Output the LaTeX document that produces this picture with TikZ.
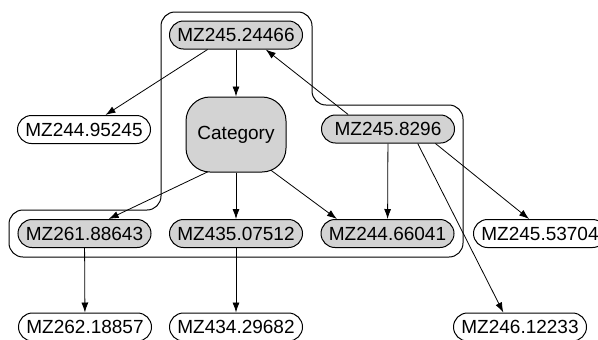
\documentclass[tikz,border=0pt]{standalone}
\usepackage{fontspec}
\setmainfont{Liberation Sans}
\usepackage{tikz}
\usetikzlibrary{arrows.meta,backgrounds}
\definecolor{lightgrey}{RGB}{211,211,211}

\begin{document}
\begin{tikzpicture}[x=0.5pt,y=-0.5pt,>={Latex[length=5pt,width=3.5pt]},line width=0.5pt]
	\tikzstyle{every node}=[font=\fontsize{9.5}{11}\selectfont]
	\tikzstyle{member}=[draw,fill=lightgrey,rounded corners=7pt,minimum width=66.5pt,minimum height=14pt,inner sep=0pt]
	\tikzstyle{other}=[draw,rounded corners=7pt,minimum width=66.5pt,minimum height=14pt,inner sep=0pt]
	\tikzstyle{category}=[draw,fill=lightgrey,rounded corners=12pt,minimum width=50pt,minimum height=37.5pt,inner sep=0pt]
	\useasboundingbox (0,0) rectangle (598,339);
	% cluster outline
	\draw[rounded corners=7pt] (161,12) -- (312,12) -- (312,105) -- (463,105)
		-- (463,257) -- (9,257) -- (9,210) -- (161,210) -- cycle;
	% nodes
	\node[member] (m24466) at (236,35) {MZ245.24466};
	\node[category] (cat) at (236,134.5) {Category};
	\node[other] (m95245) at (84,129.5) {MZ244.95245};
	\node[member] (m8296) at (388,129) {MZ245.8296};
	\node[member] (m88643) at (84.5,233.5) {MZ261.88643};
	\node[member] (m07512) at (236,233.5) {MZ435.07512};
	\node[member] (m66041) at (387.5,233.5) {MZ244.66041};
	\node[other] (m53704) at (540,233.5) {MZ245.53704};
	\node[other] (m18857) at (85,327) {MZ262.18857};
	\node[other] (m29682) at (236,327) {MZ434.29682};
	\node[other] (m12233) at (520,327) {MZ246.12233};
	% edges
	\begin{scope}[on background layer]
		\draw[->] (m24466) -- (cat);
		\draw[->] (m24466.-153) -- (m95245.34);
		\draw[->] (m8296.160) -- (m24466.-26);
		\draw[->,shorten <=-2pt] (cat.-128) -- (m88643.31);
		\draw[->] (cat) -- (m07512);
		\draw[->,shorten <=-2.5pt] (cat.-45) -- (m66041.164);
		\draw[->] (m8296) -- (m66041);
		\draw[->] (m8296.-17) -- (m53704.127);
		\draw[->] (m8296.-26) -- (m12233.139);
		\draw[->] (m88643) -- (m18857);
		\draw[->] (m07512) -- (m29682);
	\end{scope}
\end{tikzpicture}
\end{document}
